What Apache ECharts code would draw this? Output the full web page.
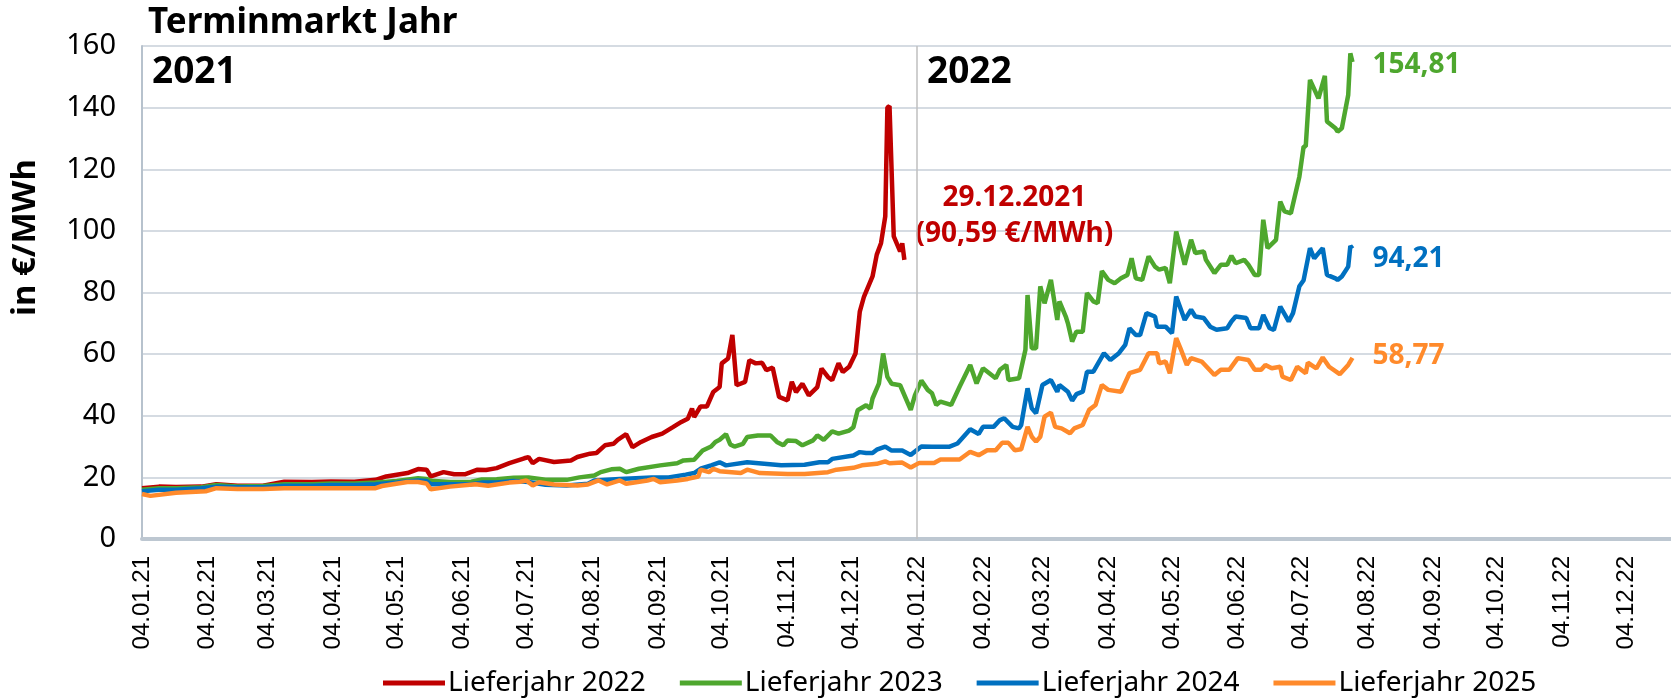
<!DOCTYPE html>
<html>
<head>
<meta charset="utf-8">
<title>Terminmarkt Jahr</title>
<script src="https://cdn.jsdelivr.net/npm/echarts@6/dist/echarts.min.js"></script>
<style>
    *{margin:0;padding:0;}
    html,body{width:1671px;height:699px;background:#fff;overflow:hidden;}
    #chart{width:1671px;height:699px;}
</style>
</head>
<body>
<div id="chart"></div>
<script>
// Lieferjahr 2022 (ends 29.12.2021)
let datesL22 = ['04.01.21','12.01.21','20.01.21','01.02.21','08.02.21','18.02.21','02.03.21','12.03.21','25.03.21','03.04.21',
    '14.04.21','24.04.21','29.04.21','09.05.21','14.05.21','18.05.21','20.05.21','26.05.21','31.05.21','05.06.21',
    '11.06.21','15.06.21','20.06.21','26.06.21','03.07.21','05.07.21','07.07.21','10.07.21','17.07.21','25.07.21',
    '28.07.21','03.08.21','06.08.21','10.08.21','14.08.21','16.08.21','20.08.21','23.08.21','27.08.21','01.09.21',
    '06.09.21','11.09.21','15.09.21','18.09.21','20.09.21','21.09.21','24.09.21','27.09.21','30.09.21','03.10.21',
    '04.10.21','07.10.21','09.10.21','11.10.21','15.10.21','17.10.21','20.10.21','23.10.21','25.10.21','28.10.21',
    '31.10.21','04.11.21','06.11.21','08.11.21','11.11.21','14.11.21','18.11.21','20.11.21','23.11.21','25.11.21',
    '28.11.21','30.11.21','03.12.21','06.12.21','08.12.21','10.12.21','14.12.21','16.12.21','18.12.21','20.12.21',
    '21.12.21','22.12.21','24.12.21','26.12.21','27.12.21','28.12.21','29.12.21'];
let valuesL22 = [16.5,17.0,16.9,17.0,17.8,17.3,17.3,18.6,18.5,18.7,
    18.6,19.2,20.3,21.4,22.7,22.5,20.3,21.7,21.0,21.0,
    22.5,22.4,23.0,24.6,26.2,26.6,24.6,26.0,25.0,25.5,
    26.6,27.7,27.9,30.4,30.9,32.2,34.0,29.8,31.5,33.1,
    34.2,36.3,38.0,39.0,42.3,39.6,43.0,43.0,47.7,49.3,
    57.0,58.6,66.2,49.9,51.0,58.0,57.0,57.2,54.8,55.6,
    46.1,45.0,51.0,47.7,50.4,46.6,49.3,55.3,52.6,51.5,
    57.0,54.2,55.9,60.2,73.8,78.7,85.2,92.3,96.0,104.7,
    140.0,140.5,98.2,95.0,93.3,96.0,90.59];

// Lieferjahr 2023
let datesL23 = ['04.01.21','12.01.21','20.01.21','01.02.21','08.02.21','18.02.21','02.03.21','12.03.21','25.03.21','03.04.21',
    '14.04.21','24.04.21','04.05.21','14.05.21','18.05.21','20.05.21','29.05.21','08.06.21','13.06.21','20.06.21',
    '28.06.21','05.07.21','13.07.21','23.07.21','29.07.21','05.08.21','08.08.21','13.08.21','17.08.21','20.08.21',
    '26.08.21','05.09.21','13.09.21','16.09.21','21.09.21','25.09.21','29.09.21','01.10.21','03.10.21','06.10.21',
    '08.10.21','10.10.21','14.10.21','16.10.21','21.10.21','27.10.21','30.10.21','02.11.21','04.11.21','08.11.21',
    '11.11.21','16.11.21','18.11.21','21.11.21','25.11.21','28.11.21','03.12.21','05.12.21','07.12.21','11.12.21',
    '13.12.21','14.12.21','17.12.21','19.12.21','21.12.21','23.12.21','27.12.21','01.01.22','03.01.22','06.01.22',
    '09.01.22','11.01.22','13.01.22','15.01.22','20.01.22','24.01.22','29.01.22','01.02.22','04.02.22','07.02.22',
    '10.02.22','12.02.22','15.02.22','16.02.22','21.02.22','24.02.22','25.02.22','27.02.22','01.03.22','03.03.22',
    '05.03.22','08.03.22','11.03.22','12.03.22','15.03.22','16.03.22','18.03.22','20.03.22','23.03.22','25.03.22',
    '28.03.22','30.03.22','01.04.22','04.04.22','07.04.22','10.04.22','13.04.22','15.04.22','17.04.22','20.04.22',
    '23.04.22','26.04.22','28.04.22','01.05.22','03.05.22','06.05.22','10.05.22','13.05.22','15.05.22','19.05.22',
    '20.05.22','24.05.22','27.05.22','30.05.22','01.06.22','03.06.22','07.06.22','09.06.22','12.06.22','14.06.22',
    '16.06.22','18.06.22','22.06.22','24.06.22','26.06.22','29.06.22','03.07.22','05.07.22','06.07.22','08.07.22',
    '12.07.22','15.07.22','16.07.22','20.07.22','21.07.22','23.07.22','26.07.22','27.07.22','28.07.22'];
let valuesL23 = [16.0,16.5,16.5,16.8,17.5,17.0,17.2,17.8,17.8,18.0,
    18.0,18.3,18.8,19.7,19.5,18.9,18.5,18.6,19.3,19.4,
    19.9,20.0,19.2,19.2,20.0,20.6,21.7,22.6,22.8,21.7,
    22.8,23.9,24.6,25.5,25.7,28.7,30.0,31.5,32.2,34.0,
    30.7,30.0,30.9,33.1,33.6,33.6,31.5,30.4,32.0,31.8,
    30.4,32.0,33.6,32.2,34.9,34.2,35.2,36.3,41.8,43.4,
    42.3,45.6,50.4,60.2,52.6,50.4,49.9,41.9,46.7,51.4,
    48.4,47.3,43.5,44.6,43.5,49.4,56.5,50.5,55.4,53.8,
    52.2,54.9,56.5,51.6,52.2,61.4,79.2,61.9,61.9,82.0,
    76.5,84.1,71.1,77.1,72.2,70.0,64.1,67.3,67.3,79.8,
    77.1,76.5,87.0,84.1,83.0,84.6,85.7,91.1,84.6,84.1,
    91.7,88.4,87.4,88.0,83.0,99.8,89.0,97.1,92.8,93.3,
    90.6,86.3,89.0,89.0,91.9,89.5,90.6,89.0,85.7,85.7,
    103.6,94.4,97.1,109.5,106.3,105.7,117.6,127.4,127.4,149.0,
    143.0,150.3,135.5,133.3,132.2,133.3,144.1,157.6,154.81];

// Lieferjahr 2024
let datesL24 = ['04.01.21','12.01.21','20.01.21','01.02.21','08.02.21','18.02.21','02.03.21','12.03.21','25.03.21','03.04.21',
    '14.04.21','24.04.21','04.05.21','14.05.21','18.05.21','20.05.21','29.05.21','08.06.21','13.06.21','20.06.21',
    '28.06.21','05.07.21','13.07.21','23.07.21','02.08.21','05.08.21','17.08.21','01.09.21','09.09.21','17.09.21',
    '21.09.21','24.09.21','29.09.21','03.10.21','06.10.21','16.10.21','24.10.21','01.11.21','12.11.21','19.11.21',
    '23.11.21','25.11.21','05.12.21','08.12.21','11.12.21','14.12.21','16.12.21','20.12.21','23.12.21','28.12.21',
    '01.01.22','06.01.22','11.01.22','19.01.22','23.01.22','29.01.22','02.02.22','04.02.22','09.02.22','12.02.22',
    '14.02.22','18.02.22','21.02.22','22.02.22','25.02.22','27.02.22','01.03.22','04.03.22','08.03.22','11.03.22',
    '12.03.22','16.03.22','18.03.22','20.03.22','23.03.22','25.03.22','28.03.22','02.04.22','05.04.22','09.04.22',
    '12.04.22','14.04.22','17.04.22','19.04.22','22.04.22','26.04.22','27.04.22','01.05.22','04.05.22','06.05.22',
    '10.05.22','13.05.22','15.05.22','19.05.22','22.05.22','25.05.22','30.05.22','01.06.22','03.06.22','08.06.22',
    '10.06.22','14.06.22','16.06.22','19.06.22','21.06.22','24.06.22','28.06.22','30.06.22','03.07.22','05.07.22',
    '08.07.22','10.07.22','14.07.22','16.07.22','20.07.22','21.07.22','23.07.22','26.07.22','27.07.22','28.07.22'];
let valuesL24 = [15.5,16.0,16.0,16.5,17.0,16.8,16.8,17.3,17.3,17.5,
    17.5,17.8,18.3,19.0,18.8,17.8,17.8,17.8,18.3,18.3,
    18.8,18.5,17.6,17.4,17.9,19.0,19.5,20.0,20.0,20.9,
    21.4,22.8,23.9,24.9,23.9,24.9,24.4,23.9,24.1,24.9,
    24.9,26.0,27.1,28.2,27.9,27.9,29.0,30.0,28.7,28.7,
    27.3,30.0,29.9,29.9,31.0,35.6,34.1,36.4,36.4,38.6,
    39.2,36.4,35.9,37.0,48.9,42.4,40.8,50.0,51.6,47.8,
    50.0,47.8,44.9,47.0,47.8,54.3,54.3,60.3,58.1,60.3,
    63.0,68.4,66.2,66.2,73.3,72.2,68.9,68.9,66.8,78.7,
    71.1,74.4,72.2,71.7,68.9,67.9,68.4,70.6,72.2,71.7,
    68.4,68.4,72.7,68.4,67.9,75.4,70.6,73.3,82.0,84.0,
    94.4,91.1,94.4,85.7,84.6,84.1,85.2,88.4,95.1,94.21];

// Lieferjahr 2025
let datesL25 = ['04.01.21','08.01.21','20.01.21','03.02.21','08.02.21','18.02.21','02.03.21','12.03.21','03.04.21','24.04.21',
    '27.04.21','09.05.21','14.05.21','18.05.21','20.05.21','29.05.21','10.06.21','16.06.21','26.06.21','01.07.21',
    '04.07.21','07.07.21','10.07.21','17.07.21','28.07.21','02.08.21','07.08.21','11.08.21','17.08.21','20.08.21',
    '30.08.21','02.09.21','05.09.21','13.09.21','18.09.21','23.09.21','24.09.21','28.09.21','30.09.21','03.10.21',
    '13.10.21','16.10.21','22.10.21','04.11.21','12.11.21','23.11.21','27.11.21','05.12.21','09.12.21','16.12.21',
    '20.12.21','22.12.21','28.12.21','01.01.22','05.01.22','12.01.22','15.01.22','24.01.22','29.01.22','02.02.22',
    '06.02.22','10.02.22','13.02.22','16.02.22','19.02.22','22.02.22','25.02.22','27.02.22','01.03.22','03.03.22',
    '05.03.22','08.03.22','10.03.22','13.03.22','17.03.22','19.03.22','23.03.22','26.03.22','29.03.22','01.04.22',
    '04.04.22','10.04.22','14.04.22','19.04.22','23.04.22','27.04.22','28.04.22','01.05.22','03.05.22','06.05.22',
    '08.05.22','11.05.22','13.05.22','18.05.22','24.05.22','27.05.22','31.05.22','04.06.22','09.06.22','12.06.22',
    '15.06.22','17.06.22','20.06.22','24.06.22','25.06.22','29.06.22','02.07.22','06.07.22','07.07.22','11.07.22',
    '14.07.22','17.07.22','22.07.22','26.07.22','28.07.22'];
let valuesL25 = [14.6,14.0,15.0,15.5,16.5,16.2,16.2,16.5,16.5,16.5,
    17.2,18.5,18.5,18.0,16.1,17.0,17.8,17.3,18.3,18.6,
    19.0,17.4,18.4,17.7,17.4,17.7,19.0,17.7,19.0,17.9,
    19.0,19.5,18.4,19.0,19.5,20.3,22.5,21.7,22.8,22.0,
    21.4,22.5,21.4,21.1,21.1,21.7,22.5,23.1,23.9,24.4,
    25.2,24.6,24.8,23.2,24.7,24.7,25.8,25.8,28.3,27.2,
    28.8,28.8,31.2,31.2,28.8,29.1,36.4,33.2,31.6,33.2,
    39.7,41.0,36.4,35.9,34.3,35.9,37.0,41.9,43.5,50.0,
    48.4,47.8,53.8,54.9,60.3,60.3,57.0,57.6,53.8,65.2,
    61.9,56.5,58.7,57.6,53.2,54.9,54.9,58.7,58.1,54.9,
    54.9,56.5,55.4,55.9,52.7,51.6,55.9,53.8,57.2,55.4,
    58.9,55.9,53.5,56.5,58.77];

let seriesNames = ['Lieferjahr 2022','Lieferjahr 2023','Lieferjahr 2024','Lieferjahr 2025'];
let seriesColors = ['#C00000','#4EA72E','#0070C0','#FF8A2B'];

// x-axis: one category per calendar day, tick labels on the 4th of each month
let axisStart = [2021, 0, 4];
let axisDays = 721;
let dividerDay = '04.01.22';

function fmt(d){
    let dd = String(d.getDate()).padStart(2,'0');
    let mm = String(d.getMonth()+1).padStart(2,'0');
    let yy = String(d.getFullYear()).slice(2);
    return dd+'.'+mm+'.'+yy;
}
let days = [];
for (let i=0;i<axisDays;i++){
    days.push(fmt(new Date(axisStart[0], axisStart[1], axisStart[2]+i)));
}

function pairs(dates, values){
    return dates.map((d,i)=>[d, values[i]]);
}
function comma(v){
    return v.toFixed(2).replace('.', ',');
}

let chart = echarts.init(document.getElementById('chart'));
let font = 'Noto Sans';

let allDates = [datesL22, datesL23, datesL24, datesL25];
let allValues = [valuesL22, valuesL23, valuesL24, valuesL25];
let labelOffsets = [[0,0],[0,3],[0,10],[0,-2]];

let series = seriesNames.map((name,i)=>{
    let s = {
        name,
        type: 'line',
        data: pairs(allDates[i], allValues[i]),
        symbol: 'none',
        showSymbol: false,
        lineStyle: {color: seriesColors[i], width: 4.5},
        itemStyle: {color: seriesColors[i]},
        z: 2+i,
        endLabel: {
            show: true,
            distance: 20,
            offset: labelOffsets[i],
            color: seriesColors[i],
            fontFamily: font,
            fontWeight: 'bold',
            fontSize: 28,
            formatter: p => comma(p.value[1])
        }
    };
    if (i===0){
        s.endLabel.align = 'center';
        s.endLabel.distance = 0;
        s.endLabel.offset = [110, -44];
        s.endLabel.lineHeight = 36;
        s.endLabel.formatter = p => {
            let d = p.value[0];
            return d.slice(0,6)+'20'+d.slice(6)+'\n('+comma(p.value[1])+' €/MWh)';
        };
    }
    if (i===1){
        s.markLine = {
            silent: true,
            symbol: ['none','none'],
            label: {show: false},
            lineStyle: {color: '#bfbfbf', type: 'solid', width: 1.5},
            data: [{xAxis: dividerDay}]
        };
    }
    return s;
});

let option = {
    backgroundColor: '#fff',
    animation: false,
    title: {
        text: 'Terminmarkt Jahr',
        left: 143,
        top: 1,
        textStyle: {fontFamily: font, fontSize: 35, fontWeight: 'bold', color: '#000'}
    },
    grid: {left: 142, right: 0, top: 46, bottom: 160},
    legend: {
        data: seriesNames,
        top: 664,
        left: 378,
        icon: 'rect',
        itemWidth: 62,
        itemHeight: 5,
        itemGap: 34,
        textStyle: {fontFamily: font, fontSize: 28, color: '#000', padding: [0,0,0,-2]}
    },
    xAxis: {
        type: 'category',
        boundaryGap: false,
        data: days,
        axisLine: {lineStyle: {color: '#bdc7d1', width: 4}},
        axisTick: {show: false},
        splitLine: {show: false},
        axisLabel: {
            rotate: 90,
            interval: (idx, val) => val.slice(0,3)==='04.',
            fontFamily: 'Liberation Sans',
            fontSize: 24,
            color: '#000',
            margin: 17
        }
    },
    yAxis: {
        type: 'value',
        min: 0,
        max: 160,
        interval: 20,
        name: 'in €/MWh',
        nameLocation: 'middle',
        nameGap: 100,
        nameTextStyle: {fontFamily: font, fontSize: 33, fontWeight: 'bold', color: '#000', padding: [0,0,0,110]},
        axisLine: {show: true, lineStyle: {color: '#b7c2cd', width: 2}},
        axisTick: {show: false},
        splitLine: {lineStyle: {color: '#c7cfd8', width: 1.5}},
        axisLabel: {fontFamily: font, fontSize: 29, color: '#000', margin: 26}
    },
    graphic: [
        {type: 'text', left: 152, top: 54, style: {text: '2021', fontFamily: font, fontSize: 37, fontWeight: 'bold', fill: '#000'}},
        {type: 'text', left: 927, top: 54, style: {text: '2022', fontFamily: font, fontSize: 37, fontWeight: 'bold', fill: '#000'}}
    ],
    series
};
chart.setOption(option);
</script>
</body>
</html>
